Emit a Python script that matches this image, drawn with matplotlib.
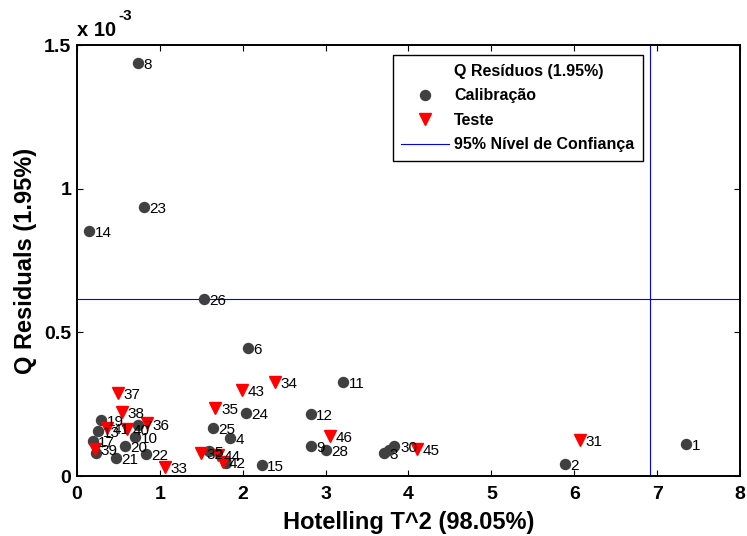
import matplotlib
matplotlib.use('Agg')
import matplotlib.pyplot as plt
from matplotlib.lines import Line2D

plt.rcParams['font.family'] = ['Liberation Sans', 'DejaVu Sans']

# Calibration samples: Hotelling T^2 and Q residuals (x 1e-3)
cal_t2 = [7.35, 5.89, 3.70, 1.85, 1.59, 2.06, 0.73, 0.73, 2.82, 0.70,
          3.21, 2.82, 0.25, 0.15, 2.23, 0.19, 0.29, 0.58, 0.47, 0.83,
          0.81, 2.04, 1.64, 1.53, 3.00, 3.83, 0.23, 1.80, 3.77]
cal_q = [0.111, 0.041, 0.079, 0.133, 0.088, 0.447, 0.177, 1.436, 0.104, 0.137,
         0.328, 0.215, 0.157, 0.854, 0.038, 0.122, 0.195, 0.105, 0.064, 0.076,
         0.935, 0.219, 0.168, 0.616, 0.090, 0.104, 0.081, 0.044, 0.091]
cal_names = ['1', '2', '3', '4', '5', '6', '7', '8', '9', '10',
             '11', '12', '13', '14', '15', '17', '19', '20', '21', '22',
             '23', '24', '25', '26', '28', '30', '', '', '']

# Test samples
test_t2 = [6.07, 1.50, 1.06, 2.39, 1.67, 0.84, 0.49, 0.54, 0.22, 0.60,
           0.36, 1.76, 1.99, 1.70, 4.10, 3.05]
test_q = [0.125, 0.079, 0.030, 0.326, 0.236, 0.183, 0.290, 0.222, 0.093, 0.164,
          0.168, 0.050, 0.299, 0.073, 0.093, 0.140]
test_names = ['31', '32', '33', '34', '35', '36', '37', '38', '39', '40',
              '41', '42', '43', '44', '45', '46']

# 95% confidence limits
t2_limit = 6.92
q_limit = 0.616

fig = plt.figure(figsize=(7.47, 5.36), dpi=100)
ax = fig.add_axes([0.1031, 0.1119, 0.8875, 0.8041])

ax.axhline(q_limit, color='blue', lw=0.8)
ax.axvline(t2_limit, color='blue', lw=0.8)

ax.plot(cal_t2, cal_q, 'o', color='#404040', ms=7.2, ls='none')
ax.plot(test_t2, test_q, 'v', color='red', ms=8.5, ls='none')

for x, y, s in zip(cal_t2 + test_t2, cal_q + test_q, cal_names + test_names):
    if s:
        ax.annotate(s, (x, y), xytext=(4, -1.5), textcoords='offset points',
                    ha='left', va='center', fontsize=11)

ax.set_xlim(0, 8)
ax.set_ylim(0, 1.5)
ax.set_xticks(range(0, 9))
ax.set_yticks([0, 0.5, 1, 1.5])
ax.set_yticklabels(['0', '0.5', '1', '1.5'])
ax.tick_params(direction='in', length=4, top=True, right=True, labelsize=14)
ax.tick_params(axis='x', pad=7)
ax.tick_params(axis='y', pad=4)
for lab in ax.get_xticklabels() + ax.get_yticklabels():
    lab.set_fontweight('bold')
for sp in ax.spines.values():
    sp.set_linewidth(1.4)

ax.set_xlabel('Hotelling T^2 (98.05%)', fontsize=17, fontweight='bold', labelpad=6)
ax.set_ylabel('Q Residuals (1.95%)', fontsize=17, fontweight='bold', labelpad=5)

ax.text(0.0, 1.012, 'x 10', transform=ax.transAxes, fontsize=14.5, fontweight='bold',
        ha='left', va='bottom')
ax.text(0.062, 1.05, '-3', transform=ax.transAxes, fontsize=11, fontweight='bold',
        ha='left', va='bottom')

handles = [Line2D([], [], ls='none'),
           Line2D([], [], marker='o', color='#404040', ms=7.2, ls='none'),
           Line2D([], [], marker='v', color='red', ms=8.5, ls='none'),
           Line2D([], [], color='blue', lw=0.8)]
labels = ['Q Resíduos (1.95%)', 'Calibração', 'Teste', '95% Nível de Confiança']
leg = ax.legend(handles, labels, loc='upper right', bbox_to_anchor=(0.854, 0.977),
                borderaxespad=0, fancybox=False, edgecolor='black', framealpha=1,
                handlelength=3.0, handletextpad=0.3, borderpad=0.55, labelspacing=0.6,
                prop={'weight': 'bold', 'size': 11.5})
leg.get_frame().set_linewidth(1.0)

fig.savefig('out.png', dpi=100)
